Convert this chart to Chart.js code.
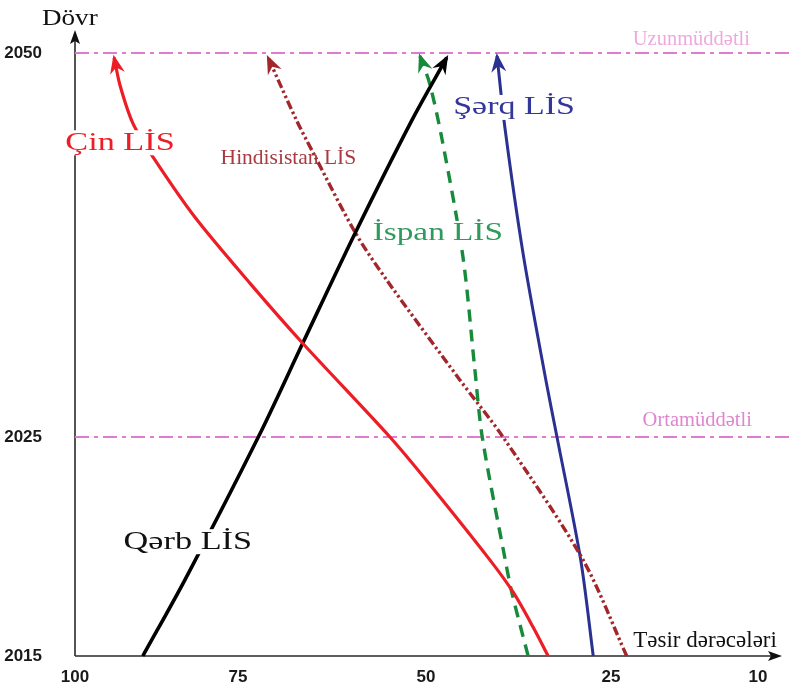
<!DOCTYPE html>
<html>
<head>
<meta charset="utf-8">
<script src="https://cdn.jsdelivr.net/npm/chart.js@4.4.1/dist/chart.umd.min.js"></script>
<style>
  html, body { margin: 0; padding: 0; background: #ffffff; }
  #wrap { width: 791px; height: 694px; position: relative; }
</style>
</head>
<body>
<div id="wrap"><canvas id="c" width="791" height="694"></canvas></div>
<script>
// ---------- data ----------
const xTickValues = [100, 75, 50, 25, 10];          // Təsir dərəcələri
const yTickValues = [2015, 2025, 2050];             // Dövr

const cinX = [33.5, 35.5, 38.2, 41.4, 49.9, 54.8, 66.4, 73.4, 81.6, 88.0, 91.1, 93.1, 94.0];
const cinY = [2015, 2016.3, 2017.9, 2019.4, 2023.0, 2025, 2031.1, 2035.0, 2039.3, 2043.2, 2045.4, 2047.9, 2049.7];

const qerbX = [89.6, 83.1, 72.3, 66.4, 59.4, 51.9, 47.2];
const qerbY = [2015, 2018.5, 2025, 2031.1, 2038.3, 2045.6, 2049.7];

const hindX = [23.4, 28.8, 39.6, 45.4, 55.2, 59.4, 64.9, 67.2, 71.0];
const hindY = [2015, 2019.4, 2025, 2028.7, 2035.2, 2038.3, 2043.4, 2045.6, 2049.7];

const ispanX = [36.2, 38.4, 39.3, 42.4, 43.4, 45.0, 47.8, 49.5, 50.8];
const ispanY = [2015, 2017.9, 2019.4, 2025, 2029.4, 2036.7, 2044.3, 2048.0, 2049.8];

const serqX = [27.4, 29.1, 32.3, 33.8, 36.9, 39.3, 40.4];
const serqY = [2015, 2019.4, 2025, 2028.7, 2037.0, 2045.0, 2049.8];

const horizonYears = [2050, 2025];
const horizonNames = ['Uzunmüddətli', 'Ortamüddətli'];
const horizonX = [100, 6.5];

const seriesNames = ['Çin LİS', 'Qərb LİS', 'Hindisistan LİS', 'İspan LİS', 'Şərq LİS'];

// ---------- non-uniform (piecewise) axis layout ----------
const axisAnchors = {
  x: { values: [100, 75, 50, 25, 10], decimals: [0, 0.2387, 0.5139, 0.7848, 1] },
  y: { values: [2015, 2025, 2050], decimals: [0, 0.3632, 1] }
};
function toDecimal(a, v) {
  const vs = a.values, ds = a.decimals, n = vs.length;
  let i = 0;
  const asc = vs[n - 1] > vs[0];
  for (i = 0; i < n - 2; i++) {
    if (asc ? v <= vs[i + 1] : v >= vs[i + 1]) break;
  }
  const t = (v - vs[i]) / (vs[i + 1] - vs[i]);
  return ds[i] + t * (ds[i + 1] - ds[i]);
}
function fromDecimal(a, d) {
  const vs = a.values, ds = a.decimals, n = vs.length;
  let i = 0;
  for (i = 0; i < n - 2; i++) { if (d <= ds[i + 1]) break; }
  const t = (d - ds[i]) / (ds[i + 1] - ds[i]);
  return vs[i] + t * (vs[i + 1] - vs[i]);
}
class PiecewiseScale extends Chart.LinearScale {
  getPixelForValue(value) {
    if (value === null || value === undefined || isNaN(value)) return NaN;
    return this.getPixelForDecimal(toDecimal(axisAnchors[this.axis], value));
  }
  getValueForPixel(pixel) {
    return fromDecimal(axisAnchors[this.axis], this.getDecimalForPixel(pixel));
  }
}
PiecewiseScale.id = 'piecewise';
PiecewiseScale.defaults = {};
Chart.register(PiecewiseScale);

function pts(xs, ys) { return xs.map((x, i) => ({ x: x, y: ys[i] })); }

const COLORS = {
  cin: '#ee1d25', qerb: '#000000', hind: '#a3262b', ispan: '#178a3c', serq: '#2b3192',
  pink: '#e27bd0'
};

// text labels anchored in data units (x centre, y baseline)
const textLabels = [
  { text: seriesNames[0], x: 93.1, y: 2043.7, color: '#ee1d25', size: 25, sx: 1.37, bg: true },
  { text: seriesNames[1], x: 82.7, y: 2019.9, color: '#111111', size: 25, sx: 1.37, bg: true },
  { text: seriesNames[2], x: 68.3, y: 2042.8, color: '#a83a40', size: 21.5, sx: 1.0, bg: false },
  { text: seriesNames[3], x: 48.4, y: 2037.8, color: '#2f9a5c', size: 25, sx: 1.33, bg: true },
  { text: seriesNames[4], x: 38.1, y: 2046.0, color: '#34379a', size: 25, sx: 1.36, bg: true },
  { text: horizonNames[0], x: 16.8, y: 2050.5, color: '#eeaadf', size: 20.5, sx: 1.0, bg: false },
  { text: horizonNames[1], x: 16.2, y: 2025.7, color: '#de86cf', size: 20.5, sx: 1.0, bg: false },
  { text: 'Dövr', x: 100.8, y: 2051.8, color: '#111111', size: 23, sx: 1.18, bg: false },
  { text: 'Təsir dərəcələri', x: 15.4, y: 2015.4, color: '#111111', size: 23, sx: 1.0, bg: false }
];

const overlay = {
  id: 'overlay',
  beforeDatasetsDraw(chart) {
    const ctx = chart.ctx, a = chart.chartArea;
    ctx.save();
    ctx.strokeStyle = '#2a2a2a';
    ctx.fillStyle = '#111';
    ctx.lineWidth = 1.6;
    // y axis
    ctx.beginPath(); ctx.moveTo(a.left, a.bottom); ctx.lineTo(a.left, a.top - 14); ctx.stroke();
    ctx.beginPath();
    ctx.moveTo(a.left, a.top - 23);
    ctx.lineTo(a.left - 5, a.top - 9);
    ctx.lineTo(a.left, a.top - 12);
    ctx.lineTo(a.left + 5, a.top - 9);
    ctx.closePath(); ctx.fill();
    // x axis
    ctx.beginPath(); ctx.moveTo(a.left, a.bottom); ctx.lineTo(a.right + 14, a.bottom); ctx.stroke();
    ctx.beginPath();
    ctx.moveTo(a.right + 24, a.bottom);
    ctx.lineTo(a.right + 10, a.bottom - 5);
    ctx.lineTo(a.right + 13, a.bottom);
    ctx.lineTo(a.right + 10, a.bottom + 5);
    ctx.closePath(); ctx.fill();
    ctx.restore();
  },
  afterDatasetsDraw(chart) {
    const ctx = chart.ctx;
    const xs = chart.scales.x, ys = chart.scales.y;
    // arrow heads at the 2050 end of every series
    chart.data.datasets.forEach((ds, i) => {
      if (!ds.arrow) return;
      const meta = chart.getDatasetMeta(i);
      const el = meta.data;
      const p = el[el.length - 1];
      let qx = p.cp1x, qy = p.cp1y;
      if (qx === undefined || Math.hypot(p.x - qx, p.y - qy) < 0.5) { qx = el[el.length - 2].x; qy = el[el.length - 2].y; }
      let dx = p.x - qx, dy = p.y - qy;
      const len = Math.hypot(dx, dy); dx /= len; dy /= len;
      const px = -dy, py = dx;
      const tx = p.x + dx * 3, ty = p.y + dy * 3;
      const L = 19, W = 7.5, N = 13;
      ctx.save();
      ctx.fillStyle = ds.borderColor;
      ctx.beginPath();
      ctx.moveTo(tx, ty);
      ctx.lineTo(tx - dx * L + px * W, ty - dy * L + py * W);
      ctx.lineTo(tx - dx * N, ty - dy * N);
      ctx.lineTo(tx - dx * L - px * W, ty - dy * L - py * W);
      ctx.closePath();
      ctx.fill();
      ctx.restore();
    });
    // text labels
    textLabels.forEach(l => {
      const cx = xs.getPixelForValue(l.x), by = ys.getPixelForValue(l.y);
      ctx.save();
      ctx.font = l.size + 'px "Liberation Serif", "Times New Roman", serif';
      ctx.textAlign = 'center';
      ctx.textBaseline = 'alphabetic';
      ctx.translate(cx, by);
      ctx.scale(l.sx, 1);
      if (l.bg) {
        const w = ctx.measureText(l.text).width;
        ctx.fillStyle = '#ffffff';
        ctx.fillRect(-w / 2 - 3, -l.size * 0.78, w + 6, l.size * 1.0);
      }
      ctx.fillStyle = l.color;
      ctx.fillText(l.text, 0, 0);
      ctx.restore();
    });
  }
};

const tickFont = { family: '"Liberation Sans", Arial, sans-serif', size: 17, weight: 'bold' };

const datasets = [
  { label: seriesNames[0], data: pts(cinX, cinY), borderColor: COLORS.cin, borderWidth: 3.2, arrow: true },
  { label: seriesNames[1], data: pts(qerbX, qerbY), borderColor: COLORS.qerb, borderWidth: 3.6, arrow: true },
  { label: seriesNames[2], data: pts(hindX, hindY), borderColor: COLORS.hind, borderWidth: 3.4, borderDash: [9, 3, 2.5, 3, 2.5, 3], arrow: true },
  { label: seriesNames[3], data: pts(ispanX, ispanY), borderColor: COLORS.ispan, borderWidth: 3.4, borderDash: [12, 8], arrow: true },
  { label: seriesNames[4], data: pts(serqX, serqY), borderColor: COLORS.serq, borderWidth: 3.0, arrow: true }
].concat(horizonYears.map((yr, i) => ({
  label: horizonNames[i],
  data: horizonX.map(x => ({ x: x, y: yr })),
  borderColor: COLORS.pink, borderWidth: 2, borderDash: [14, 5, 4, 5], tension: 0, order: 10
})));

datasets.forEach(d => {
  d.showLine = true; d.pointRadius = 0; d.pointHoverRadius = 0; d.fill = false; d.clip = false;
  if (d.tension === undefined) d.tension = 0.3;
  if (d.order === undefined) d.order = 1;
  d.backgroundColor = d.borderColor;
});

function noPad(s) { s.paddingTop = 0; s.paddingBottom = 0; s.paddingLeft = 0; s.paddingRight = 0; }

new Chart(document.getElementById('c'), {
  type: 'scatter',
  data: { datasets: datasets },
  options: {
    responsive: false,
    animation: false,
    events: [],
    layout: { padding: { top: 53, right: 33, left: 0, bottom: 0 } },
    plugins: { legend: { display: false }, tooltip: { enabled: false } },
    scales: {
      x: {
        type: 'piecewise', min: 10, max: 100,
        afterBuildTicks: s => { s.ticks = xTickValues.map(v => ({ value: v })); },
        afterFit: s => { s.height = 38; noPad(s); },
        grid: { display: false, drawTicks: false },
        border: { display: false },
        ticks: { padding: 11, font: tickFont, color: '#1a1a1a', maxRotation: 0, autoSkip: false, callback: v => String(v) }
      },
      y: {
        type: 'piecewise', min: 2015, max: 2050,
        afterBuildTicks: s => { s.ticks = yTickValues.map(v => ({ value: v })); },
        afterFit: s => { s.width = 75; noPad(s); },
        grid: { display: false, drawTicks: false },
        border: { display: false },
        ticks: { padding: 33, font: tickFont, color: '#1a1a1a', autoSkip: false, callback: v => String(v) }
      }
    }
  },
  plugins: [overlay]
});
</script>
</body>
</html>
